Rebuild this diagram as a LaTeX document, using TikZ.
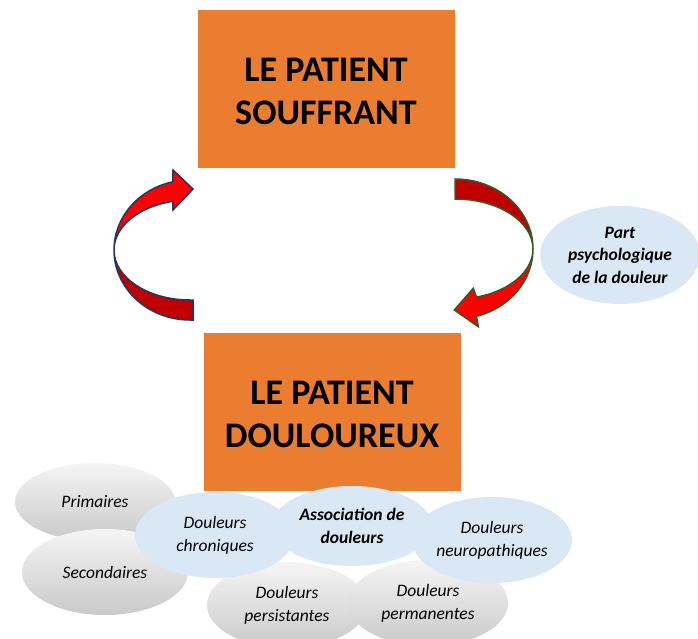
\documentclass[tikz,border=0pt]{standalone}
\usepackage{fontspec}
\setmainfont{Carlito}
\usetikzlibrary{positioning, shapes.geometric}
\definecolor{boxorange}{RGB}{235,125,48}
\definecolor{ovalblue}{RGB}{218,232,246}
\definecolor{arrowred}{RGB}{255,0,0}
\definecolor{arrowdark}{RGB}{192,0,0}
\definecolor{edgeblue}{RGB}{32,56,100}
\definecolor{edgegreen}{RGB}{56,87,35}

\begin{document}
\begin{tikzpicture}[x=1pt, y=1pt,
		patient/.style={fill=boxorange, minimum width=257pt, minimum height=158pt, inner sep=0pt, align=center, font=\fontsize{36}{43}\selectfont\bfseries},
		oval/.style={ellipse, minimum width=160pt, minimum height=86pt, inner sep=0pt, align=center, font=\fontsize{17.5}{23}\selectfont\itshape},
		greyoval/.style={oval, top color=gray!8, bottom color=gray!42},
		blueoval/.style={oval, fill=ovalblue},
		frontface/.style={fill=arrowred, draw=#1, line width=1.5pt},
		backface/.style={fill=arrowdark, draw=#1, line width=1.5pt}]
		\useasboundingbox (0,0) rectangle (698,-639);
		\node[patient] (souffrant) at (326,-89) {\rule{0pt}{29pt}LE PATIENT\\SOUFFRANT};
		\node[patient, below=165pt of souffrant, xshift=6pt] (douloureux) {\rule{0pt}{28pt}LE PATIENT\\DOULOUREUX};
		\begin{scope}[shift={(190,-250)}]
		\draw[backface=edgeblue] (-76,0) arc[start angle=180, end angle=270, x radius=76, y radius=70] -- (3,-70) -- (3,-50) -- (0,-50) arc[start angle=270, end angle=180, x radius=76, y radius=50] -- cycle;
		\draw[frontface=edgeblue] (-76,0) arc[start angle=180, end angle=103, x radius=76, y radius=70] -- (-17,80) -- (3,61) -- (-17,40) -- (-17.1,48.7) arc[start angle=103, end angle=180, x radius=76, y radius=50] -- cycle;
		\end{scope}
		\begin{scope}[shift={(455,-249)}]
		\draw[backface=edgegreen] (0,70) arc[start angle=90, end angle=0, x radius=78, y radius=70] arc[start angle=0, end angle=90, x radius=78, y radius=50] -- cycle;
		\draw[frontface=edgegreen] (78,0) arc[start angle=0, end angle=-74, x radius=78, y radius=70] -- (23.3,-77.7) -- (-0.7,-61) -- (18.3,-39.3) -- (21.5,-48.1) arc[start angle=-74, end angle=0, x radius=78, y radius=50] -- cycle;
		\end{scope}
		\node[blueoval, minimum height=98pt, font=\fontsize{17.5}{22.5}\selectfont\bfseries\itshape] (psycho) at (620,-255) {Part\\psychologique\\de la douleur};
		\node[greyoval, minimum height=78pt] (primaires) at (95,-502) {Primaires};
		\node[greyoval, minimum width=166pt] (secondaires) at (105,-572) {Secondaires};
		\node[greyoval] (persistantes) at (287,-605) {Douleurs\\persistantes};
		\node[greyoval] (permanentes) at (428,-603) {Douleurs\\permanentes};
		\node[blueoval] (chroniques) at (215,-535) {Douleurs\\chroniques};
		\node[blueoval, minimum height=80pt, font=\fontsize{17.5}{23}\selectfont\bfseries\itshape] (association) at (352,-526) {Association de\\douleurs};
		\node[blueoval] (neuro) at (492,-540) {Douleurs\\neuropathiques};
\end{tikzpicture}
\end{document}
